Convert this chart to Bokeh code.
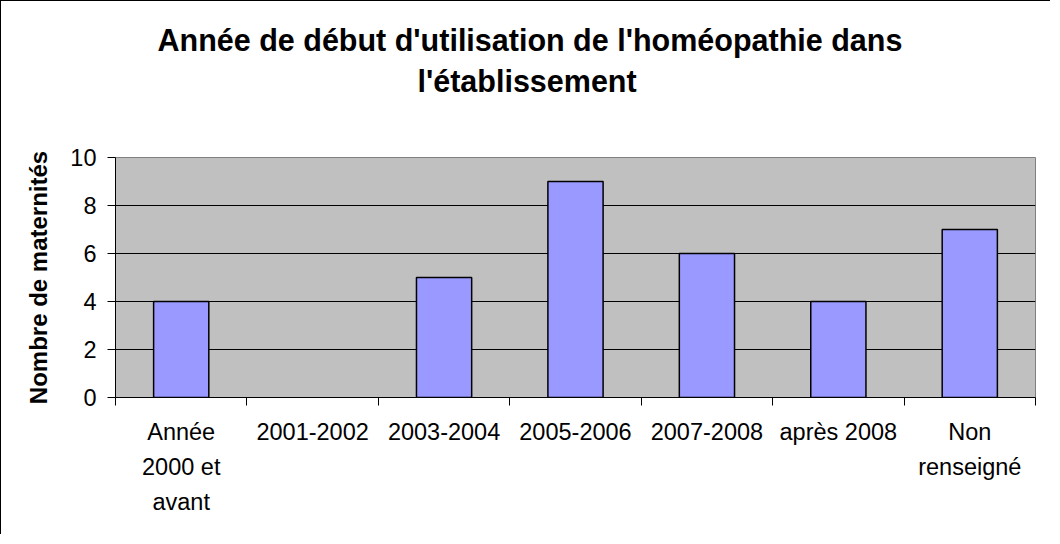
import numpy as np
from bokeh.plotting import figure
from bokeh.models import Range1d, FixedTicker, Title, ColumnDataSource
from bokeh.embed import file_html
from bokeh.resources import INLINE

categories = ["Année\n2000 et\navant", "2001-2002", "2003-2004", "2005-2006",
              "2007-2008", "après 2008", "Non\nrenseigné"]
values = [4, 0, 5, 9, 6, 4, 7]
y_ticks = [0, 2, 4, 6, 8, 10]
title_lines = ["Année de début d'utilisation de l'homéopathie dans", "l'établissement"]
y_label = "Nombre de maternités"

FONT = "Liberation Sans"
n = len(categories)
centers = (np.arange(n) + 0.5).tolist()
bounds = np.arange(n + 1).tolist()

p = figure(width=1050, height=534, output_backend="svg", toolbar_location=None,
           x_range=Range1d(0, n), y_range=Range1d(0, 10),
           min_border_left=114, min_border_right=16, min_border_top=156, min_border_bottom=138)
p.styles = {"border-left": "1px solid black", "border-top": "1px solid black"}

p.background_fill_color = "#C0C0C0"
p.border_fill_color = "white"
p.outline_line_color = "#808080"
p.outline_line_width = 1

nz = [i for i, v in enumerate(values) if v > 0]
src = ColumnDataSource(dict(x=[centers[i] for i in nz], top=[values[i] for i in nz]))
p.vbar(x="x", top="top", width=0.42, bottom=0, source=src,
       fill_color="#9999FF", line_color="black", line_width=1.5)

# x axis
xa = p.xaxis[0]
xa.ticker = FixedTicker(ticks=centers, minor_ticks=bounds)
xa.major_label_overrides = {c: lab for c, lab in zip(centers, categories)}
xa.major_tick_line_color = None
xa.major_tick_out = 0
xa.major_tick_in = 0
xa.minor_tick_line_color = "black"
xa.minor_tick_out = 8
xa.minor_tick_in = 0
xa.axis_line_color = "black"
xa.major_label_text_font = FONT
xa.major_label_text_font_size = "23.5px"
xa.major_label_text_color = "black"
xa.major_label_text_line_height = 1.35
xa.major_label_standoff = 13

# y axis
ya = p.yaxis[0]
ya.ticker = FixedTicker(ticks=y_ticks)
ya.major_tick_out = 8
ya.major_tick_in = 0
ya.minor_tick_line_color = None
ya.axis_line_color = "black"
ya.major_label_text_font = FONT
ya.major_label_text_font_size = "23.5px"
ya.major_label_text_color = "black"
ya.major_label_standoff = 11
ya.axis_label = y_label
ya.axis_label_text_font = FONT
ya.axis_label_text_font_size = "24px"
ya.axis_label_text_font_style = "bold"
ya.axis_label_text_color = "black"
ya.axis_label_standoff = 15

p.xgrid.grid_line_color = None
p.ygrid.ticker = FixedTicker(ticks=y_ticks[1:-1])
p.ygrid.grid_line_color = "black"
p.ygrid.grid_line_width = 1

# spacer between frame and title lines (invisible)
p.add_layout(Title(text="\u00a0", standoff=24, text_font=FONT, text_font_size="30.5px",
                   text_color="white"), "above")
# titles: added nearest-to-frame first
for line, off, standoff in [(title_lines[1], 302, 0), (title_lines[0], 42, 9)]:
    p.add_layout(Title(text=line, align="left", offset=off, standoff=standoff,
                       text_font=FONT, text_font_size="30.5px", text_font_style="bold",
                       text_color="black"), "above")

open("out.html", "w").write(file_html(p, INLINE))
